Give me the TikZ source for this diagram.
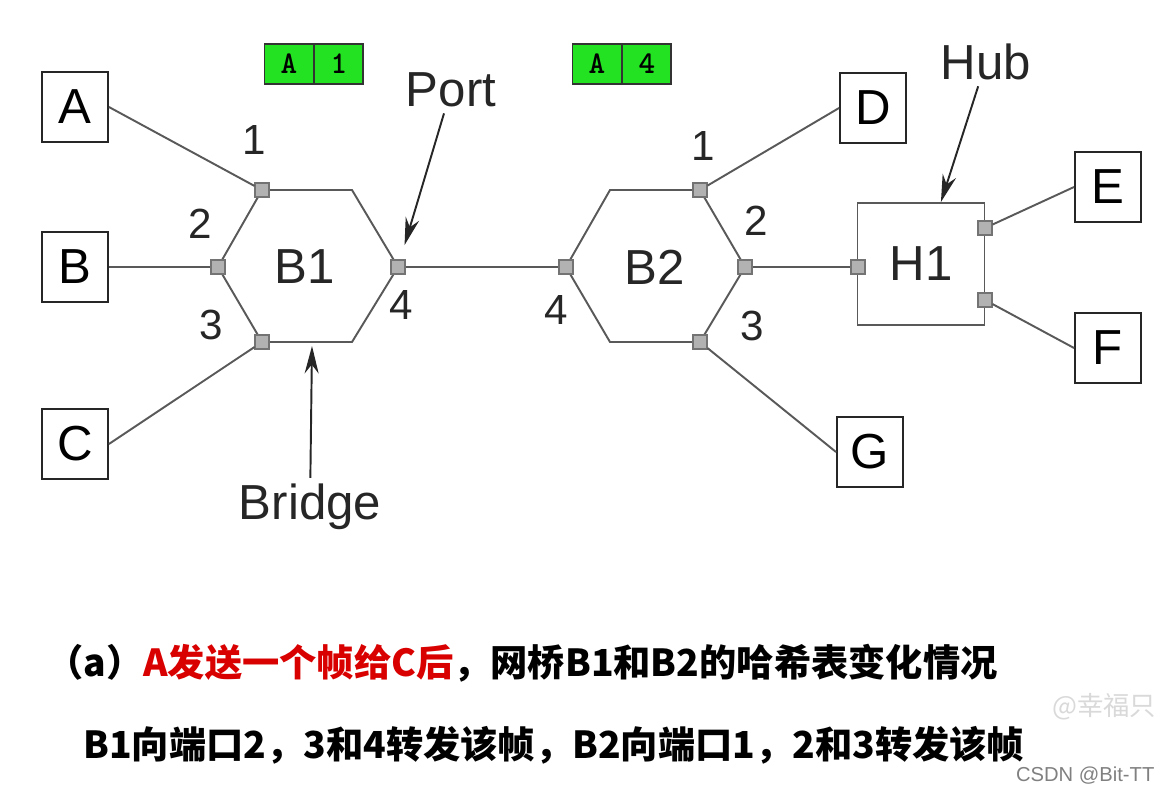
\documentclass[tikz,border=0pt]{standalone}
\usepackage{fontspec}
\setmainfont{Liberation Sans}
\newfontfamily\cjk{Noto Sans CJK SC}
\usepackage{tikz}
\usetikzlibrary{positioning,arrows.meta}
\definecolor{tabgreen}{RGB}{34,226,34}

\begin{document}
\begin{tikzpicture}[x=0.02cm, y=-0.02cm, >=Stealth,
    host/.style={draw=black!85, line width=1.1pt, fill=white, minimum width=1.32cm, minimum height=1.4cm, font=\fontsize{28}{28}\selectfont},
    port/.style={draw=black!55, fill=black!30, minimum size=0.28cm, inner sep=0pt, line width=0.6pt},
    link/.style={draw=black!65, line width=1.1pt},
    plabel/.style={font=\fontsize{24}{24}\selectfont, text=black!85},
    callout/.style={font=\fontsize{28}{28}\selectfont, text=black!85},
    pointer/.style={->, line width=1.1pt, black!85, >={Stealth[length=0.55cm, width=0.28cm]}},
    caption/.style={anchor=west, font=\cjk\bfseries\fontsize{21.2}{21.2}\selectfont},
    cell/.style={draw=black!80, fill=tabgreen, line width=0.8pt, minimum width=0.97cm, minimum height=0.8cm, inner sep=0pt, font=\ttfamily\bfseries\fontsize{18}{18}\selectfont}]

    \useasboundingbox (0,0) rectangle (1160,792);
    \clip (0,0) rectangle (1160,792);

    % ================= HASH TABLES =================
    \node[cell] (t1a) at (289,64) {A};
    \node[cell, right=0pt of t1a] (t1p) {1};
    \node[cell] (t2a) at (597,64) {A};
    \node[cell, right=0pt of t2a] (t2p) {4};

    % ================= BRIDGE B1 =================
    \draw[link] (262,190) -- (352,190) -- (398,267) -- (352,342) -- (262,342) -- (218,267) -- cycle;
    \node[font=\fontsize{28}{28}\selectfont, text=black!85] (b1) at (305,267) {B1};
    \node[port] (b1p1) at (262,190) {};
    \node[port] (b1p2) at (218,267) {};
    \node[port] (b1p3) at (262,342) {};
    \node[port] (b1p4) at (398,267) {};
    \node[plabel] (n11) at (254,140) {1};
    \node[plabel] (n12) at (200,224) {2};
    \node[plabel] (n13) at (211,325) {3};
    \node[plabel] (n14) at (401,305) {4};

    % ================= BRIDGE B2 =================
    \draw[link] (610,190) -- (700,190) -- (745,267) -- (700,342) -- (610,342) -- (566,267) -- cycle;
    \node[font=\fontsize{28}{28}\selectfont, text=black!85] (b2) at (655,267) {B2};
    \node[port] (b2p1) at (700,190) {};
    \node[port] (b2p2) at (745,267) {};
    \node[port] (b2p3) at (700,342) {};
    \node[port] (b2p4) at (566,267) {};
    \node[plabel] (n21) at (703,146) {1};
    \node[plabel] (n22) at (756,221) {2};
    \node[plabel] (n23) at (752,326) {3};
    \node[plabel] (n24) at (556,310) {4};

    % ================= HUB H1 =================
    \node[draw=black!65, line width=1.1pt, minimum width=2.54cm, minimum height=2.44cm,
          font=\fontsize{28}{28}\selectfont, text=black!85] (H1) at (921,264) {H1\hspace{0.12cm}};
    \node[port] (h1p1) at (858,267) {};
    \node[port] (h1p2) at (985,228) {};
    \node[port] (h1p3) at (985,300) {};

    % ================= HOSTS =================
    \node[host] (A) at (75,107) {A};
    \node[host] (B) at (75,267) {B};
    \node[host] (C) at (75,444) {C};
    \node[host] (D) at (873,108) {D};
    \node[host] (G) at (870,452) {G};
    \node[host] (E) at (1108,187) {E};
    \node[host] (F) at (1108,348) {F};

    % ================= LINKS =================
    \draw[link] (A.east) -- (b1p1);
    \draw[link] (B) -- (b1p2);
    \draw[link] (C.east) -- (b1p3);
    \draw[link] (b1p4) -- (b2p4);
    \draw[link] (b2p1) -- (D.west);
    \draw[link] (b2p3) -- (G.west);
    \draw[link] (b2p2) -- (h1p1);
    \draw[link] (h1p2) -- (E.west);
    \draw[link] (h1p3) -- (F.west);

    % ================= CALLOUTS =================
    \node[callout] (portlbl) at (451,90) {Port};
    \node[callout] (hublbl) at (986,62) {Hub};
    \node[callout] (bridgelbl) at (310,507) {Bridge};
    \coordinate (b1bot) at (312,346);
    \draw[pointer, shorten >=0.3cm] (portlbl) -- (b1p4);
    \draw[pointer] (hublbl) -- (H1);
    \draw[pointer] (bridgelbl) -- (b1bot);

    % ================= CAPTION =================
    \node[caption] (cap1) at (40,663)
        {（a）\textcolor{red!85!black}{A发送一个帧给C后}，网桥B1和B2的哈希表变化情况};
    \node[caption] (cap2) at (77,745)
        {B1向端口2，3和4转发该帧，B2向端口1，2和3转发该帧};

    % watermarks
    \node[anchor=east, font=\cjk\fontsize{15}{15}\selectfont, text=black!15, inner sep=2pt] (wm1) at (1160,707) {@幸福只};
    \node[anchor=south east, font=\fontsize{11.5}{11.5}\selectfont, text=black!50, inner sep=3pt] (wm2) at (1160,790) {CSDN @Bit-TT};
\end{tikzpicture}
\end{document}
